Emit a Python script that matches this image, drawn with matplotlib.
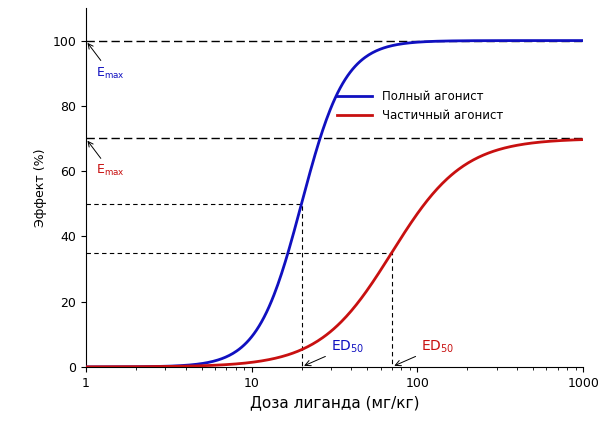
import numpy as np
import matplotlib.pyplot as plt

# Hill model parameters
names = ['Полный агонист', 'Частичный агонист']
emax = [100, 70]
ed50 = [20, 70]
slope = [3.3, 2.0]
colors = ['#1010c0', '#c81010']

dose = np.logspace(0, 3, 400)

fig = plt.figure(figsize=(6, 4.41), dpi=100)
ax = fig.add_axes([0.143, 0.168, 0.829, 0.814])

for n, e, d, s, c in zip(names, emax, ed50, slope, colors):
    y = e * dose**s / (dose**s + d**s)
    ax.plot(dose, y, color=c, lw=2, label=n, zorder=3)
    ax.axhline(e, color='black', ls=(0, (6, 3)), lw=1)
    ax.plot([1, d, d], [e / 2, e / 2, 0], color='black', ls=(0, (4, 3)), lw=0.8)

ax.set_xscale('log')
ax.set_xlim(1, 1000)
ax.set_ylim(0, 110)
ax.set_xticks([1, 10, 100, 1000])
ax.set_xticklabels(['1', '10', '100', '1000'])
ax.set_yticks([0, 20, 40, 60, 80, 100])
ax.tick_params(labelsize=9)
for sp in ['top', 'right']:
    ax.spines[sp].set_visible(False)
ax.set_xlabel('Доза лиганда (мг/кг)', fontsize=11)
ax.set_ylabel('Эффект (%)', fontsize=9)

arr = dict(arrowstyle='->', color='black', lw=0.7)
ax.annotate('E$_{\\mathregular{max}}$', xy=(1, 100), xytext=(1.15, 89), color=colors[0],
            fontsize=9, arrowprops=arr)
ax.annotate('E$_{\\mathregular{max}}$', xy=(1, 70), xytext=(1.15, 59), color=colors[1],
            fontsize=9, arrowprops=arr)
ax.annotate('ED$_{50}$', xy=(20, 0), xytext=(30, 5), color=colors[0],
            fontsize=10, arrowprops=arr)
ax.annotate('ED$_{50}$', xy=(70, 0), xytext=(105, 5), color=colors[1],
            fontsize=10, arrowprops=arr)

ax.legend(loc='upper right', bbox_to_anchor=(0.86, 0.80), frameon=False, fontsize=8.5,
          handlelength=3)

fig.savefig('out.png', dpi=100)
